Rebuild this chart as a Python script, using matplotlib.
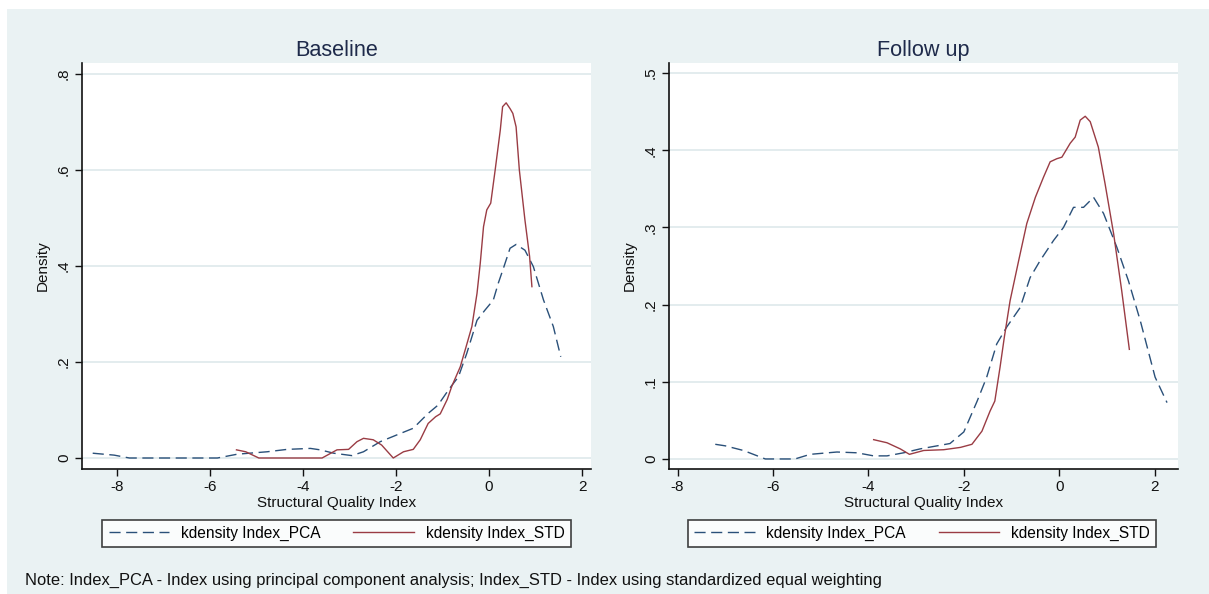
import matplotlib
matplotlib.use("Agg")
import matplotlib.pyplot as plt
from matplotlib.patches import Rectangle
from matplotlib.lines import Line2D

plt.rcParams['font.family'] = ['Liberation Sans', 'DejaVu Sans']

# ---------------- data ----------------
titles = ["Baseline", "Follow up"]
x_label = "Structural Quality Index"
y_label = "Density"
series_names = ["kdensity Index_PCA", "kdensity Index_STD"]
note = ("Note: Index_PCA - Index using principal component analysis; "
        "Index_STD - Index using standardized equal weighting")

x_ticks = [-8, -6, -4, -2, 0, 2]
x_ticklabels = ["-8", "-6", "-4", "-2", "0", "2"]
base_yticks = [0, 0.2, 0.4, 0.6, 0.8]
base_yticklabels = ["0", ".2", ".4", ".6", ".8"]
fu_yticks = [0, 0.1, 0.2, 0.3, 0.4, 0.5]
fu_yticklabels = ["0", ".1", ".2", ".3", ".4", ".5"]

base_pca_x = [-8.52, -8.06, -7.73, -7.0, -6.5, -6.0, -5.84, -5.41, -4.77, -4.34,
              -3.84, -3.63, -3.34, -2.95, -2.7, -2.34, -1.91, -1.63, -1.31, -1.1,
              -0.85, -0.66, -0.48, -0.26, -0.09, 0.09, 0.2, 0.32, 0.45, 0.58,
              0.77, 0.95, 1.17, 1.38, 1.54]
base_pca_y = [0.010, 0.006, 0.000, 0.000, 0.000, 0.000, 0.000, 0.008, 0.013, 0.018,
              0.020, 0.017, 0.010, 0.005, 0.013, 0.034, 0.051, 0.062, 0.093, 0.110,
              0.145, 0.169, 0.218, 0.287, 0.308, 0.329, 0.365, 0.399, 0.437, 0.445,
              0.433, 0.399, 0.329, 0.274, 0.211]

base_std_x = [-5.43, -5.23, -4.95, -4.5, -4.0, -3.59, -3.27, -3.02, -2.84, -2.7,
              -2.49, -2.31, -2.06, -1.84, -1.63, -1.48, -1.31, -1.15, -1.05, -0.9,
              -0.8, -0.62, -0.5, -0.37, -0.26, -0.19, -0.12, -0.05, 0.035, 0.13,
              0.24, 0.29, 0.366, 0.45, 0.51, 0.58, 0.65, 0.77, 0.87, 0.92]
base_std_y = [0.017, 0.013, 0.000, 0.000, 0.000, 0.000, 0.017, 0.018, 0.034, 0.041,
              0.038, 0.027, 0.000, 0.013, 0.018, 0.038, 0.072, 0.086, 0.092, 0.122,
              0.150, 0.190, 0.230, 0.274, 0.343, 0.406, 0.482, 0.517, 0.531, 0.600,
              0.683, 0.732, 0.740, 0.728, 0.718, 0.690, 0.600, 0.496, 0.420, 0.357]

fu_pca_x = [-7.21, -7.0, -6.62, -6.16, -5.54, -5.22, -4.66, -4.24, -3.89, -3.61,
            -3.26, -2.92, -2.29, -2.0, -1.72, -1.52, -1.31, -1.1, -0.82, -0.61,
            -0.4, -0.12, 0.09, 0.30, 0.51, 0.72, 0.93, 1.21, 1.45, 1.70,
            2.01, 2.26]
fu_pca_y = [0.019, 0.017, 0.011, 0.000, 0.000, 0.006, 0.009, 0.008, 0.004, 0.004,
            0.008, 0.013, 0.020, 0.035, 0.075, 0.106, 0.149, 0.171, 0.196, 0.235,
            0.257, 0.283, 0.300, 0.326, 0.326, 0.339, 0.318, 0.274, 0.231, 0.179,
            0.106, 0.073]

fu_std_x = [-3.89, -3.61, -3.33, -3.14, -2.84, -2.42, -2.07, -1.83, -1.62, -1.45,
            -1.35, -1.24, -1.15, -1.03, -0.85, -0.68, -0.5, -0.33, -0.19, -0.05,
            0.056, 0.23, 0.335, 0.44, 0.545, 0.65, 0.82, 0.96, 1.14, 1.31, 1.47]
fu_std_y = [0.025, 0.021, 0.013, 0.006, 0.011, 0.012, 0.015, 0.019, 0.036, 0.062,
            0.075, 0.119, 0.158, 0.205, 0.257, 0.305, 0.339, 0.365, 0.385, 0.389,
            0.391, 0.409, 0.417, 0.439, 0.444, 0.437, 0.404, 0.357, 0.292, 0.218, 0.142]

# ---------------- style ----------------
W, H = 1209, 594
BG = "#eaf2f3"
NAVY = "#2a5079"
MAROON = "#9a3c44"
GRID = "#e3ecee"
INK = "#111111"
FS = 11

fig = plt.figure(figsize=(W / 100, H / 100), dpi=100)
fig.patch.set_facecolor("white")
fig.patches.append(Rectangle((7 / W, 0), 1 - 7 / W, 1 - 9 / H,
                             transform=fig.transFigure, facecolor=BG,
                             edgecolor="none", zorder=-10))


def px_axes(x0, y0, x1, y1):
    return fig.add_axes([x0 / W, 1 - y1 / H, (x1 - x0) / W, (y1 - y0) / H])


panels = [
    dict(box=(82, 63, 591, 469), xlim=(-8.75, 2.19), ylim=(-0.0229, 0.823),
         yt=base_yticks, ytl=base_yticklabels,
         pca=(base_pca_x, base_pca_y), std=(base_std_x, base_std_y),
         title=titles[0], leg=(100, 519, 573, 548)),
    dict(box=(669, 63, 1178, 469), xlim=(-8.18, 2.49), ylim=(-0.013, 0.513),
         yt=fu_yticks, ytl=fu_yticklabels,
         pca=(fu_pca_x, fu_pca_y), std=(fu_std_x, fu_std_y),
         title=titles[1], leg=(686, 519, 1158, 548)),
]

for p in panels:
    ax = px_axes(*p["box"])
    ax.set_facecolor("white")
    ax.set_xlim(*p["xlim"])
    ax.set_ylim(*p["ylim"])
    for s in ["top", "right"]:
        ax.spines[s].set_visible(False)
    for s in ["left", "bottom"]:
        ax.spines[s].set_color(INK)
        ax.spines[s].set_linewidth(1.2)
    ax.set_yticks(p["yt"])
    ax.set_yticklabels(p["ytl"], rotation=90, va="center")
    ax.set_xticks(x_ticks)
    ax.set_xticklabels(x_ticklabels)
    ax.tick_params(axis="both", length=5, width=1.0, color=INK,
                   labelsize=FS, labelcolor=INK, pad=3)
    ax.yaxis.grid(True, color=GRID, linewidth=1.4)
    ax.set_axisbelow(True)
    ax.plot(*p["pca"], color=NAVY, lw=1.0, dashes=(8, 4), label=series_names[0])
    ax.plot(*p["std"], color=MAROON, lw=1.0, label=series_names[1])
    ax.set_title(p["title"], fontsize=15.6, color="#1e2a4a", pad=5)
    ax.set_xlabel(x_label, fontsize=FS, color=INK, labelpad=1)
    ax.set_ylabel(y_label, fontsize=FS, color=INK, labelpad=5)

    lx0, ly0, lx1, ly1 = p["leg"]
    handles = [Line2D([], [], color=NAVY, lw=1.0, dashes=(8, 4)),
               Line2D([], [], color=MAROON, lw=1.0)]
    leg = fig.legend(handles, series_names, ncol=2,
                     bbox_to_anchor=((lx0 + lx1) / 2 / W, 1 - (ly0 + ly1) / 2 / H),
                     loc="center", fontsize=11.2, handlelength=3.9,
                     handletextpad=0.75, columnspacing=2.1, borderaxespad=0,
                     borderpad=0.4, frameon=True, fancybox=False)
    leg.get_frame().set_edgecolor(INK)
    leg.get_frame().set_linewidth(1.2)
    leg.get_frame().set_facecolor("white")

fig.text(25 / W, 1 - 580 / H, note, fontsize=11.9, color=INK,
         ha="left", va="center")

fig.savefig("out.png", dpi=100, facecolor=fig.get_facecolor())
